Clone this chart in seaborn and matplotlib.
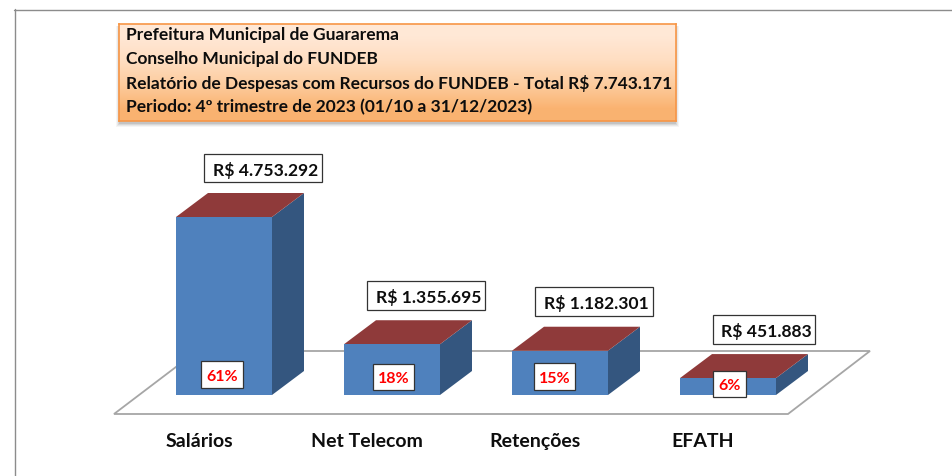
import numpy as np
import pandas as pd
import seaborn as sns
import matplotlib.pyplot as plt
from matplotlib.patches import Polygon, Rectangle
from matplotlib.transforms import Affine2D

categories = ["Salários", "Net Telecom", "Retenções", "EFATH"]
values = [4753292, 1355695, 1182301, 451883]
percents = ["61%", "18%", "15%", "6%"]
title_lines = [
    "Prefeitura Municipal de Guararema",
    "Conselho Municipal do FUNDEB",
    "Relatório de Despesas com Recursos do FUNDEB - Total R$ 7.743.171",
    "Periodo: 4º trimestre de 2023 (01/10 a 31/12/2023)",
]

W, H = 952, 477
FLOOR_Y = 415
BASE_Y = 396
BAR_STEP = 168
FIRST_BAR = 224
PX_PER_VALUE = 178 / 4753292
DEPTH_X = 32 / BAR_STEP
DEPTH_Y = 24 / PX_PER_VALUE

sns.set_theme(style="white")
plt.rcParams["font.family"] = ["Lato", "DejaVu Sans"]

fig = plt.figure(figsize=(W / 100, H / 100), dpi=100)
# axes runs from the top of the figure down to the front edge of the floor
ax = fig.add_axes([0, 1 - FLOOR_Y / H, 1, FLOOR_Y / H])
px = Affine2D().scale(1 / W, -1 / H).translate(0, 1) + fig.transFigure

# frame and floor, in picture pixels
fig.add_artist(plt.Line2D([14, W], [10.5, 10.5], color="#8c8c8c", lw=1, transform=px))
fig.add_artist(plt.Line2D([14.5, 14.5], [10, H], color="#8c8c8c", lw=1, transform=px))
floor = Polygon([(114, FLOOR_Y), (788, FLOOR_Y), (870, 352), (197, 352)], closed=True,
                facecolor="white", edgecolor="#a6a6a6", lw=1.3, transform=px, zorder=0)
fig.add_artist(floor)
ax.patch.set_alpha(0)

df = pd.DataFrame({"categoria": categories, "valor": values})
sns.barplot(data=df, x="categoria", y="valor", color="#4F81BD", saturation=1,
            width=96 / BAR_STEP, linewidth=0, ax=ax, zorder=3)

ax.set_xlim(-FIRST_BAR / BAR_STEP, (W - FIRST_BAR) / BAR_STEP)
ax.set_ylim(-(FLOOR_Y - BASE_Y) / PX_PER_VALUE, BASE_Y / PX_PER_VALUE)

# extruded faces of each bar
for bar in ax.patches[:len(values)]:
    x0, x1 = bar.get_x(), bar.get_x() + bar.get_width()
    top = bar.get_height()
    ax.add_patch(Polygon([(x1, 0), (x1 + DEPTH_X, DEPTH_Y), (x1 + DEPTH_X, top + DEPTH_Y), (x1, top)],
                         closed=True, facecolor="#34567F", edgecolor="none", zorder=2))
    ax.add_patch(Polygon([(x0, top), (x1, top), (x1 + DEPTH_X, top + DEPTH_Y), (x0 + DEPTH_X, top + DEPTH_Y)],
                         closed=True, facecolor="#8F3A3A", edgecolor="none", zorder=2))

ax.set_xticks(np.arange(len(categories)) - 25 / BAR_STEP)
ax.set_xticklabels(categories, fontsize=14, fontweight="bold", color="#0d0d0d")
ax.tick_params(axis="x", length=0, pad=13)
ax.set_yticks([])
ax.set_xlabel("")
ax.set_ylabel("")
sns.despine(ax=ax, left=True, bottom=True)


def label_box(x0, y0, x1, y1, text, color, size, shift=0):
    fig.add_artist(Rectangle((x0, y0), x1 - x0, y1 - y0, facecolor="white", edgecolor="#333333",
                             lw=0.9, transform=px, zorder=5))
    fig.text((x0 + x1) / 2 + shift, (y0 + y1) / 2, text, transform=px, color=color, fontsize=size,
             fontweight="bold", ha="center", va="center_baseline", zorder=6)


value_boxes = [(204, 155, 322, 183), (367, 282, 485, 311), (535, 288, 653, 317), (713, 316, 815, 345)]
percent_boxes = [(201, 362, 243, 389), (373, 365, 414, 391), (534, 364, 575, 391), (713, 372, 746, 398)]
for v, b in zip(values, value_boxes):
    label_box(*b, "R$ " + f"{v:,}".replace(",", "."), "#0d0d0d", 12.6, shift=2.5)
for p, b in zip(percents, percent_boxes):
    label_box(*b, p, "#FF0000", 11.5)

# title box: soft shadow, gradient fill, text
BOX = (119, 25, 676, 122)
for grow, alpha in [(4, 0.04), (3, 0.05), (2, 0.07), (1, 0.09)]:
    fig.add_artist(Rectangle((BOX[0] - grow + 1, BOX[1] + 2), BOX[2] - BOX[0] + 2 * grow - 2, BOX[3] - BOX[1] + grow,
                             facecolor="black", edgecolor="none", alpha=alpha, transform=px, zorder=6))
box_ax = fig.add_axes([BOX[0] / W, 1 - BOX[3] / H, (BOX[2] - BOX[0]) / W, (BOX[3] - BOX[1]) / H], zorder=7)
gradient = np.array([[1.0, 0.91, 0.84], [1.0, 0.87, 0.76], [0.99, 0.80, 0.62], [0.98, 0.70, 0.44]])
box_ax.imshow(gradient[:, None, :], aspect="auto", interpolation="bilinear")
box_ax.set_xticks([])
box_ax.set_yticks([])
for s in box_ax.spines.values():
    s.set_color("#F79646")
    s.set_linewidth(1.2)
for line, y in zip(title_lines, [40, 64, 89, 112]):
    fig.text(126, y, line, transform=px, fontsize=12.5, fontweight="bold", color="#0d0d0d",
             ha="left", va="baseline", zorder=8)

fig.savefig("out.png", dpi=100)
